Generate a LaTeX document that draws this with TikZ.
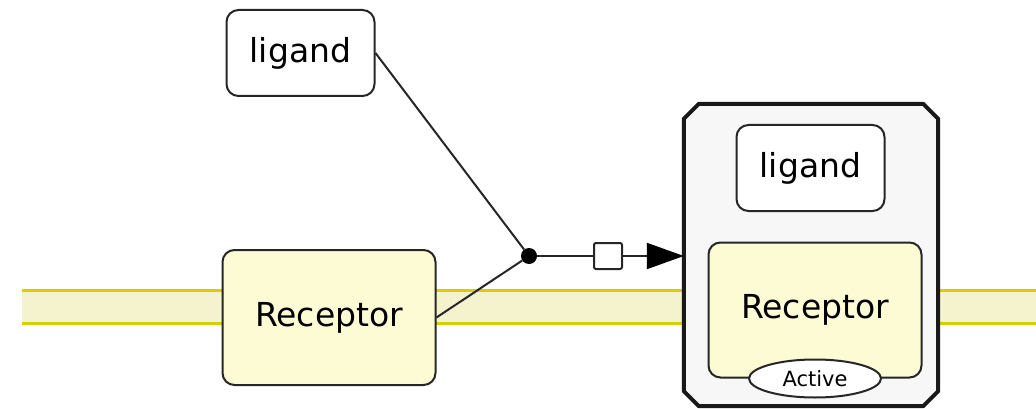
\documentclass[tikz,border=0pt]{standalone}
\usepackage{fontspec}
\setmainfont{DejaVu Sans}
\usetikzlibrary{arrows.meta,positioning,shapes.geometric}
\definecolor{membraneline}{RGB}{214,208,0}
\definecolor{membranefill}{RGB}{245,242,206}
\definecolor{receptorfill}{RGB}{253,251,212}
\definecolor{complexfill}{RGB}{247,247,247}
\tikzstyle{species}=[
	rectangle,
	rounded corners=12pt,
	draw=black!85,
	line width=2pt,
	inner sep=0pt,
	font=\fontsize{33}{38}\selectfont
]
\tikzstyle{ligandbox}=[
	species,
	fill=white,
	minimum width=148pt,
	minimum height=86pt
]
\tikzstyle{receptorbox}=[
	species,
	fill=receptorfill,
	minimum width=213pt,
	minimum height=135pt
]
\tikzstyle{complexbox}=[
	rectangle,
	inner sep=0pt,
	minimum width=254pt,
	minimum height=302pt
]
\tikzstyle{complexline}=[
	draw=black!90,
	line width=4pt,
	fill=complexfill,
	line join=round
]
\tikzstyle{state}=[
	ellipse,
	draw=black!85,
	line width=2pt,
	fill=white,
	inner sep=0pt,
	minimum width=132pt,
	minimum height=38pt,
	font=\fontsize{21}{24}\selectfont
]
\tikzstyle{link}=[
	line width=2pt,
	draw=black!85
]
\tikzstyle{joint}=[
	circle,
	fill=black,
	inner sep=0pt,
	minimum size=16pt
]
\tikzstyle{process}=[
	rectangle,
	rounded corners=2pt,
	draw=black!85,
	line width=2pt,
	fill=white,
	inner sep=0pt,
	minimum width=28pt,
	minimum height=26pt
]
\tikzstyle{production}=[
	link,
	-{Triangle[length=37pt,width=26pt,color=black]}
]

\begin{document}
\begin{tikzpicture}[x=1pt,y=-1pt]
\useasboundingbox (0,0) rectangle (1036,409);
% membrane
\fill [membranefill] (22,290) rectangle (1036,323);
\draw [membraneline, line width=3pt] (22,290) -- (1036,290);
\draw [membraneline, line width=3pt] (22,323) -- (1036,323);

\node [ligandbox] (Ligand) at (300.5,53) {ligand};
\node [receptorbox] (Receptor) at (329,317.5) {Receptor};

% complex with cut corners
\node [complexbox] (Complex) at (811,255) {};
\path [complexline]
	([xshift=15pt]Complex.north west) -- ([xshift=-15pt]Complex.north east)
	-- ([yshift=-15pt]Complex.north east) -- ([yshift=15pt]Complex.south east)
	-- ([xshift=-15pt]Complex.south east) -- ([xshift=15pt]Complex.south west)
	-- ([yshift=15pt]Complex.south west) -- ([yshift=-15pt]Complex.north west)
	-- cycle;
\node [ligandbox] (ComplexLigand) at (810.5,168) {ligand};
\node [receptorbox] (ComplexReceptor) at (815,310) {Receptor};
\node [state] (Active) at (ComplexReceptor.south) {Active};

\node [joint] (Joint) at (529,256) {}
	edge [link] (Ligand.east)
	edge [link] (Receptor.east);
\node [process] (Process) at (608,256) {}
	edge [link] (Joint);
\draw [production] (Process) -- (Process -| Complex.west);
\end{tikzpicture}
\end{document}
